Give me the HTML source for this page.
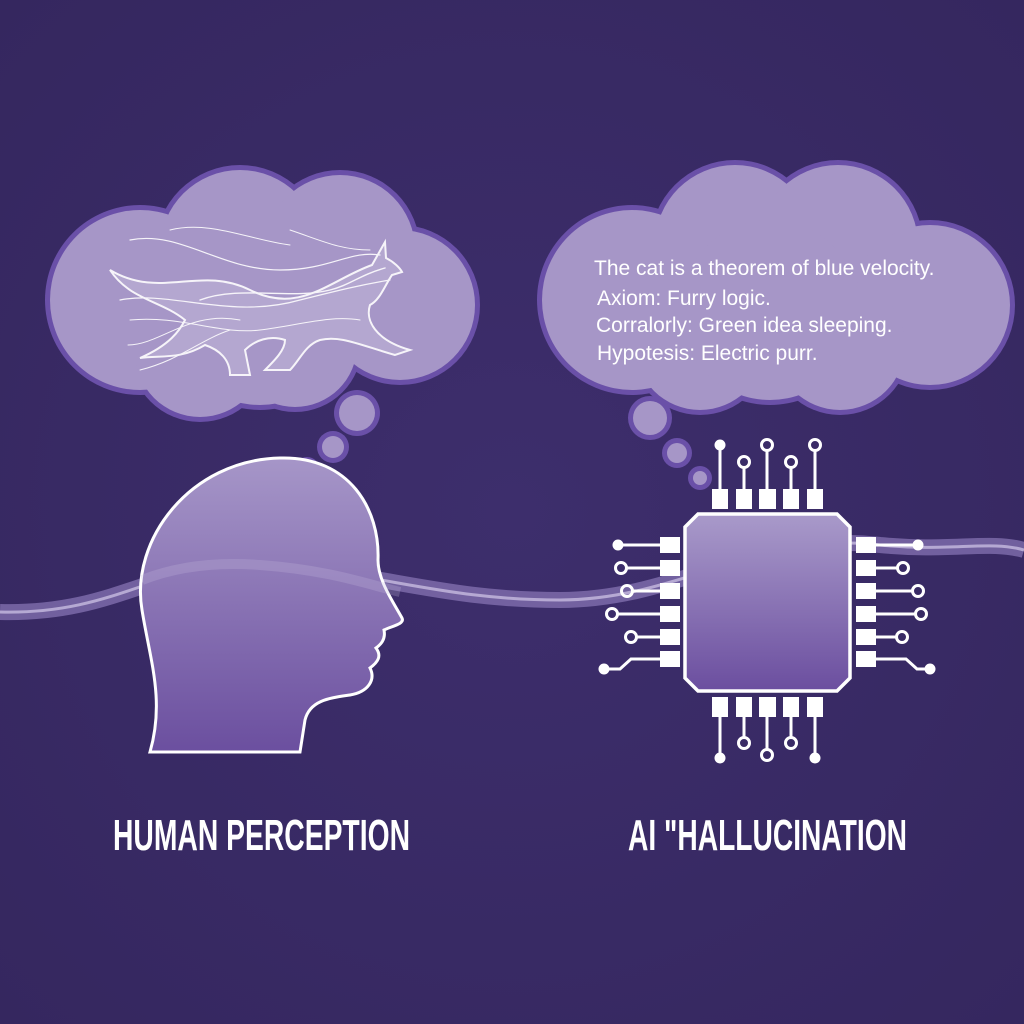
<!DOCTYPE html>
<html><head><meta charset="utf-8"><style>
html,body{margin:0;padding:0;background:#3a2b68;}
svg{display:block}
</style></head><body>
<svg width="1024" height="1024" viewBox="0 0 1024 1024" xmlns="http://www.w3.org/2000/svg">
<defs>
<linearGradient id="hg" x1="0" y1="0" x2="0" y2="1">
<stop offset="0" stop-color="#a696c8"/><stop offset="1" stop-color="#6b4f9f"/>
</linearGradient>
<linearGradient id="cg" x1="0" y1="0" x2="0" y2="1">
<stop offset="0" stop-color="#a99aca"/><stop offset="1" stop-color="#6b4e9f"/>
</linearGradient>
<radialGradient id="bg" cx="0.5" cy="0.5" r="0.7">
<stop offset="0" stop-color="#3d2e6c"/><stop offset="1" stop-color="#35275f"/>
</radialGradient>
</defs>
<rect width="1024" height="1024" fill="url(#bg)"/>

<!-- wave -->
<path id="wv" d="M0,612 C120,615 160,560 260,565 C380,572 440,600 560,600 C680,600 760,530 880,545 C950,552 990,540 1024,550" fill="none" stroke="#8a78b8" stroke-width="16" opacity="0.7"/>
<path d="M0,612 C120,615 160,560 260,565 C380,572 440,600 560,600 C680,600 760,530 880,545 C950,552 990,540 1024,550" fill="none" stroke="#c7bce0" stroke-width="3" opacity="0.8"/>

<!-- left cloud -->
<g fill="#6a50a8">
<circle cx="140" cy="300" r="95"/><circle cx="240" cy="250" r="85"/><circle cx="340" cy="250" r="80"/>
<circle cx="400" cy="305" r="80"/><circle cx="200" cy="352" r="70"/><circle cx="295" cy="345" r="67"/><circle cx="260" cy="315" r="95"/>
<circle cx="357" cy="413" r="23"/><circle cx="333" cy="447" r="16"/><circle cx="307" cy="470" r="13"/>
</g>
<g fill="#a696c7">
<circle cx="140" cy="300" r="90"/><circle cx="240" cy="250" r="80"/><circle cx="340" cy="250" r="75"/>
<circle cx="400" cy="305" r="75"/><circle cx="200" cy="352" r="65"/><circle cx="295" cy="345" r="62"/><circle cx="260" cy="315" r="90"/>
<circle cx="357" cy="413" r="18"/><circle cx="333" cy="447" r="11"/><circle cx="307" cy="470" r="8"/>
</g>

<!-- cat -->
<g fill="none" stroke="#fff" stroke-linecap="round" opacity="0.9">
<path d="M110,270 C160,300 200,265 250,290 C300,315 330,280 372,265 L385,242 L386,258 C394,262 400,268 402,272 L392,275 C385,285 380,300 370,305 C365,320 375,340 410,350 L395,355 C360,345 340,335 320,340 C305,345 300,360 290,370 L265,370 C275,360 285,350 285,340 C270,335 255,340 245,350 L250,375 L230,375 C230,360 220,350 205,345 C180,360 160,355 140,358 C170,345 180,330 185,320 C160,300 130,300 110,270 Z" stroke-width="2" fill="#ffffff" fill-opacity="0.18"/>
<path d="M130,240 C180,230 220,270 280,270 C330,270 350,250 380,255" stroke-width="1.2"/>
<path d="M170,230 C210,220 250,240 290,245" stroke-width="1"/>
<path d="M120,300 C170,290 230,320 300,300 C340,290 360,285 390,280" stroke-width="1.2"/>
<path d="M130,320 C180,315 220,335 260,330 C300,325 330,315 360,320" stroke-width="1"/>
<path d="M128,345 C160,345 190,310 240,320" stroke-width="1"/>
<path d="M290,230 C320,240 340,250 370,250" stroke-width="1"/>
<path d="M140,370 C180,360 200,340 230,330" stroke-width="1"/>
<path d="M200,300 C240,285 290,300 330,290 C350,285 360,275 385,268" stroke-width="1.4"/>
</g>

<!-- right cloud -->
<g fill="#6a50a8">
<circle cx="632" cy="300" r="95"/><circle cx="735" cy="245" r="85"/><circle cx="838" cy="245" r="85"/>
<circle cx="930" cy="305" r="85"/><circle cx="700" cy="345" r="70"/><circle cx="840" cy="345" r="70"/><circle cx="770" cy="310" r="95"/>
<circle cx="650" cy="418" r="22"/><circle cx="677" cy="453" r="15"/><circle cx="700" cy="478" r="12"/>
</g>
<g fill="#a696c7">
<circle cx="632" cy="300" r="90"/><circle cx="735" cy="245" r="80"/><circle cx="838" cy="245" r="80"/>
<circle cx="930" cy="305" r="80"/><circle cx="700" cy="345" r="65"/><circle cx="840" cy="345" r="65"/><circle cx="770" cy="310" r="90"/>
<circle cx="650" cy="418" r="17"/><circle cx="677" cy="453" r="10"/><circle cx="700" cy="478" r="7"/>
</g>
<g font-family="Liberation Sans, sans-serif" font-size="21" fill="#ffffff">
<text x="594" y="275">The cat is a theorem of blue velocity.</text>
<text x="597" y="305">Axiom: Furry logic.</text>
<text x="596" y="332">Corralorly: Green idea sleeping.</text>
<text x="597" y="360">Hypotesis: Electric purr.</text>
</g>

<!-- head -->
<path d="M150,752 C165,700 150,660 142,610 C130,540 190,460 280,458 C350,456 380,510 378,560 C378,580 392,600 402,618 C405,624 392,626 384,630 C386,640 380,645 376,648 C382,656 378,662 370,668 C376,680 368,692 350,695 C330,698 310,700 305,720 L300,752 Z" fill="url(#hg)" stroke="#fff" stroke-width="3"/>
<path d="M142,580 C180,565 220,562 260,565 C330,570 370,585 400,592" fill="none" stroke="#c7bce0" stroke-width="10" opacity="0.25"/>

<!-- chip -->
<g fill="none" stroke="#fff" stroke-width="3">
<line x1="720" y1="445" x2="720" y2="490"/><circle cx="720" cy="445" r="4" fill="#fff"/>
<line x1="744" y1="468" x2="744" y2="490"/><circle cx="744" cy="462" r="5.5"/>
<line x1="767" y1="451" x2="767" y2="490"/><circle cx="767" cy="445" r="5.5"/>
<line x1="791" y1="468" x2="791" y2="490"/><circle cx="791" cy="462" r="5.5"/>
<line x1="815" y1="451" x2="815" y2="490"/><circle cx="815" cy="445" r="5.5"/>
<line x1="720" y1="715" x2="720" y2="758"/><circle cx="720" cy="758" r="4" fill="#fff"/>
<line x1="744" y1="715" x2="744" y2="737"/><circle cx="744" cy="743" r="5.5"/>
<line x1="767" y1="715" x2="767" y2="749"/><circle cx="767" cy="755" r="5.5"/>
<line x1="791" y1="715" x2="791" y2="737"/><circle cx="791" cy="743" r="5.5"/>
<line x1="815" y1="715" x2="815" y2="758"/><circle cx="815" cy="758" r="4" fill="#fff"/>
<line x1="618" y1="545" x2="662" y2="545"/><circle cx="618" cy="545" r="4" fill="#fff"/>
<line x1="627" y1="568" x2="662" y2="568"/><circle cx="621" cy="568" r="5.5"/>
<line x1="633" y1="591" x2="662" y2="591"/><circle cx="627" cy="591" r="5.5"/>
<line x1="618" y1="614" x2="662" y2="614"/><circle cx="612" cy="614" r="5.5"/>
<line x1="637" y1="637" x2="662" y2="637"/><circle cx="631" cy="637" r="5.5"/>
<polyline points="604,669 620,669 631,659 662,659"/><circle cx="604" cy="669" r="4" fill="#fff"/>
<line x1="872" y1="545" x2="918" y2="545"/><circle cx="918" cy="545" r="4" fill="#fff"/>
<line x1="872" y1="568" x2="897" y2="568"/><circle cx="903" cy="568" r="5.5"/>
<line x1="872" y1="591" x2="912" y2="591"/><circle cx="918" cy="591" r="5.5"/>
<line x1="872" y1="614" x2="915" y2="614"/><circle cx="921" cy="614" r="5.5"/>
<line x1="872" y1="637" x2="896" y2="637"/><circle cx="902" cy="637" r="5.5"/>
<polyline points="872,659 906,659 917,669 930,669"/><circle cx="930" cy="669" r="4" fill="#fff"/>
</g>
<g fill="#fff">
<rect x="712" y="489" width="16" height="20"/><rect x="736" y="489" width="16" height="20"/><rect x="759" y="489" width="17" height="20"/><rect x="783" y="489" width="16" height="20"/><rect x="807" y="489" width="16" height="20"/>
<rect x="712" y="697" width="16" height="20"/><rect x="736" y="697" width="16" height="20"/><rect x="759" y="697" width="17" height="20"/><rect x="783" y="697" width="16" height="20"/><rect x="807" y="697" width="16" height="20"/>
<rect x="660" y="537" width="20" height="16"/><rect x="660" y="560" width="20" height="16"/><rect x="660" y="583" width="20" height="16"/><rect x="660" y="606" width="20" height="16"/><rect x="660" y="629" width="20" height="16"/><rect x="660" y="651" width="20" height="16"/>
<rect x="856" y="537" width="20" height="16"/><rect x="856" y="560" width="20" height="16"/><rect x="856" y="583" width="20" height="16"/><rect x="856" y="606" width="20" height="16"/><rect x="856" y="629" width="20" height="16"/><rect x="856" y="651" width="20" height="16"/>
</g>
<path d="M698,514 L837,514 L850,527 L850,678 L837,691 L698,691 L685,678 L685,527 Z" fill="url(#cg)" stroke="#fff" stroke-width="3.5"/>

<g font-family="Liberation Sans, sans-serif" font-weight="bold" font-size="44" fill="#fff">
<text x="113" y="850" textLength="297" lengthAdjust="spacingAndGlyphs">HUMAN PERCEPTION</text>
<text x="628" y="850" textLength="279" lengthAdjust="spacingAndGlyphs">AI "HALLUCINATION</text>
</g>
</svg>
</body></html>
